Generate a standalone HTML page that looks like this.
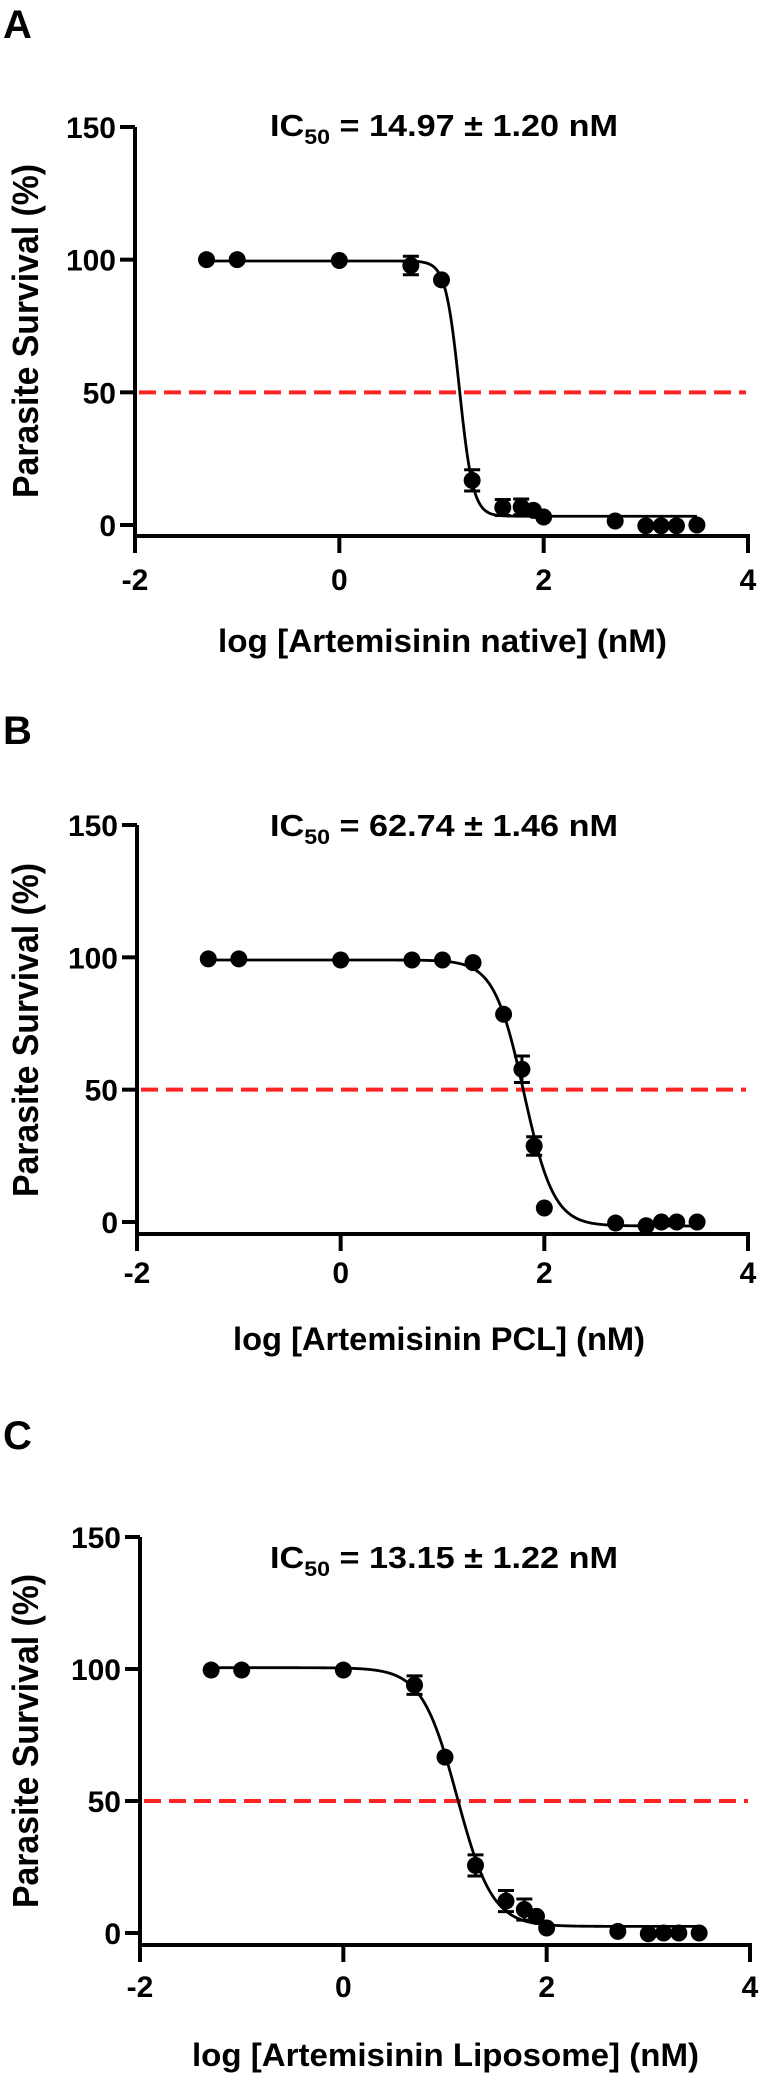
<!DOCTYPE html>
<html><head><meta charset="utf-8"><style>
html,body{margin:0;padding:0;background:#fff;}
svg{display:block;}
text{font-family:"Liberation Sans",Arial,sans-serif;font-weight:bold;fill:#000;}
</style></head>
<body>
<svg id="fig" width="761" height="2081" viewBox="0 0 761 2081" xmlns="http://www.w3.org/2000/svg"></svg>
<script>
// ---- data ----
const panelLetters = ["A", "B", "C"];
const xTitles = ["log [Artemisinin native] (nM)", "log [Artemisinin PCL] (nM)", "log [Artemisinin Liposome] (nM)"];
const icLabels = ["14.97 \u00B1 1.20 nM", "62.74 \u00B1 1.46 nM", "13.15 \u00B1 1.22 nM"];
const xTicks = [-2, 0, 2, 4];
const yTicks = [0, 50, 100, 150];
const logConcA = [-1.3, -1, 0, 0.7, 1, 1.3, 1.6, 1.78, 1.9, 2, 2.7, 3, 3.15, 3.3, 3.5];
const survivalA = [100, 100, 99.7, 97.8, 92.4, 16.8, 6.6, 6.8, 5.5, 3.0, 1.5, -0.3, -0.3, -0.3, 0];
const errorA = [0, 0, 0, 3.5, 0, 4, 3, 3, 0, 0, 0, 0, 0, 0, 0];
const logConcB = [-1.3, -1, 0, 0.7, 1, 1.3, 1.6, 1.78, 1.9, 2, 2.7, 3, 3.15, 3.3, 3.5];
const survivalB = [99.4, 99.4, 99, 99, 99, 98, 78.5, 57.7, 28.7, 5.3, -0.4, -1.4, 0, 0, 0];
const errorB = [0, 0, 0, 0, 0, 0, 0, 5, 3.5, 0, 0, 0, 0, 0, 0];
const logConcC = [-1.3, -1, 0, 0.7, 1, 1.3, 1.6, 1.78, 1.9, 2, 2.7, 3, 3.15, 3.3, 3.5];
const survivalC = [99.6, 99.6, 99.6, 93.9, 66.6, 25.6, 12.1, 8.9, 6.3, 1.9, 0.6, -0.3, 0, 0, 0];
const errorC = [0, 0, 0, 3.5, 0, 4, 4, 4, 0, 0, 0, 0, 0, 0, 0];
// fitted 4PL params: top, bottom, logIC50, hill
const fitTop = [99.5, 99, 100.5];
const fitBottom = [3.3, -1.5, 2.5];
const fitLogIC50 = [1.175, 1.80, 1.119];
const fitHill = [6.5, 2.96, 2.5];
const refLine = 50;

const allX = [logConcA, logConcB, logConcC];
const allY = [survivalA, survivalB, survivalC];
const allE = [errorA, errorB, errorC];

// ---- layout (pixels) ----
const layout = [
  {ax:135, xr:748, y0:525, y150:127, xAxisY:536, letterY:38, icY:136, titleY:652, titleX:218, titleLen:449, tickY:590, yTitleC:331},
  {ax:137, xr:748, y0:1222, y150:825, xAxisY:1234, letterY:744, icY:836, titleY:1350, titleX:233, titleLen:412, tickY:1283, yTitleC:1030},
  {ax:140, xr:750, y0:1933, y150:1537, xAxisY:1945, letterY:1449, icY:1568, titleY:2066, titleX:192, titleLen:507, tickY:1997, yTitleC:1741}
];

const NS = "http://www.w3.org/2000/svg";
const svg = document.getElementById("fig");
function mk(tag, attrs, parent){
  const e = document.createElementNS(NS, tag);
  for (const k in attrs) e.setAttribute(k, attrs[k]);
  (parent||svg).appendChild(e);
  return e;
}

for (let p = 0; p < 3; p++) {
  const L = layout[p];
  const sx = v => L.ax + (v - (-2)) * (L.xr - L.ax) / 6;
  const sy = v => L.y0 - v * (L.y0 - L.y150) / 150;
  const g = mk("g", {});
  
  

  const letter = mk("text", {x:3, y:L.letterY, "font-size":40}, g);
  letter.textContent = panelLetters[p];
  
  

  // IC50 annotation
  const ic = mk("text", {x:270, y:L.icY, "font-size":31, textLength:348, lengthAdjust:"spacingAndGlyphs"}, g);
  
  
  const t1 = mk("tspan", {}, ic); t1.textContent = "IC";
  const t2 = mk("tspan", {dy:8, "font-size":21}, ic); t2.textContent = "50";
  const t3 = mk("tspan", {dy:-8}, ic); t3.textContent = " = " + icLabels[p];

  // axes
  const yAxis = mk("line", {x1:L.ax, y1:L.y150, x2:L.ax, y2:L.xAxisY+2, stroke:"#000", "stroke-width":4}, g);
  
  
  const xAxis = mk("line", {x1:L.ax-2, y1:L.xAxisY, x2:L.xr+2, y2:L.xAxisY, stroke:"#000", "stroke-width":4}, g);
  
  

  yTicks.forEach(t => {
    const y = sy(t);
    const tk = mk("line", {x1:L.ax-15, y1:y, x2:L.ax, y2:y, stroke:"#000", "stroke-width":4}, g);
    
    
    const lb = mk("text", {x:L.ax-19, y:y+11, "font-size":30, "text-anchor":"end"}, g);
    lb.textContent = t;
    
    
  });
  xTicks.forEach(t => {
    const x = sx(t);
    const tk = mk("line", {x1:x, y1:L.xAxisY, x2:x, y2:L.xAxisY+17, stroke:"#000", "stroke-width":4}, g);
    
    
    const lb = mk("text", {x:x, y:L.tickY, "font-size":30, "text-anchor":"middle"}, g);
    lb.textContent = t;
    
    
  });

  const xt = mk("text", {x:L.titleX, y:L.titleY, "font-size":32, textLength:L.titleLen, lengthAdjust:"spacingAndGlyphs"}, g);
  xt.textContent = xTitles[p];
  
  

  const yt = mk("text", {x:0, y:0, "font-size":36, "text-anchor":"middle", textLength:334, lengthAdjust:"spacingAndGlyphs",
    transform:"translate(38," + L.yTitleC + ") rotate(-90)"}, g);
  yt.textContent = "Parasite Survival (%)";
  
  

  // reference line at 50%
  const rl = mk("line", {x1:L.ax+4, y1:sy(refLine), x2:L.xr-2, y2:sy(refLine), stroke:"#ff2424", "stroke-width":4, "stroke-dasharray":"17 8"}, g);
  
  

  // fitted curve
  const xs = allX[p];
  const f = v => fitBottom[p] + (fitTop[p] - fitBottom[p]) / (1 + Math.pow(10, (v - fitLogIC50[p]) * fitHill[p]));
  let d = "";
  const x0 = xs[0], x1 = xs[xs.length-1];
  for (let i = 0; i <= 400; i++) {
    const v = x0 + (x1 - x0) * i / 400;
    d += (i ? "L" : "M") + sx(v).toFixed(2) + "," + sy(f(v)).toFixed(2);
  }
  const curve = mk("path", {d:d, fill:"none", stroke:"#000", "stroke-width":2.8}, g);
  
  

  // points + error bars
  const ys = allY[p], es = allE[p];
  xs.forEach((v, i) => {
    const cx = sx(v), cy = sy(ys[i]);
    if (es[i] > 0) {
      const e1 = sy(ys[i] + es[i]), e2 = sy(ys[i] - es[i]);
      const eb = mk("path", {d:"M"+cx+","+e1+"L"+cx+","+e2+"M"+(cx-8)+","+e1+"L"+(cx+8)+","+e1+"M"+(cx-8)+","+e2+"L"+(cx+8)+","+e2,
        stroke:"#000", "stroke-width":3, fill:"none"}, g);
      
      
    }
    const c = mk("circle", {cx:cx, cy:cy, r:8.5, fill:"#000"}, g);
    
    
  });
}
</script>
</body></html>
